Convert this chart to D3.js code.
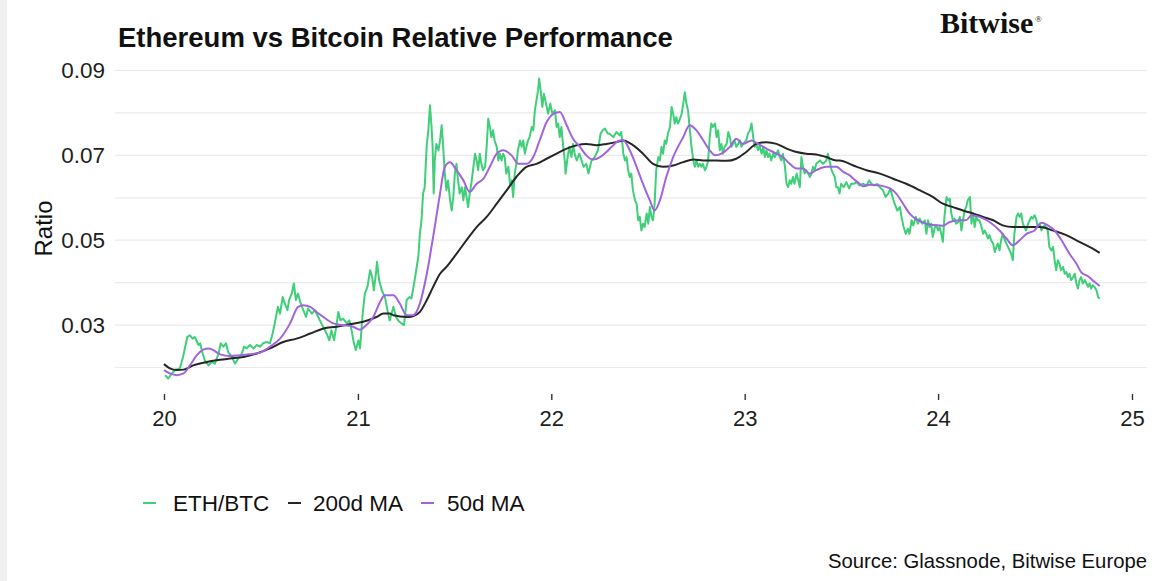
<!DOCTYPE html>
<html>
<head>
<meta charset="utf-8">
<script src="https://cdn.jsdelivr.net/npm/d3@7"></script>
<style>
  body { margin: 0; background: #fff; }
  svg text { font-family: "Liberation Sans", Arial, sans-serif; }
</style>
</head>
<body>
<div id="chart"></div>
<script>
// ETH/BTC daily ratio, [days since 2020-01-01, ratio]
const ethBtc = [
  [2,.0182],[8,.0174],[15,.0186],[21,.0194],[30,.0198],[36,.0225],[40,.0249],[44,.0272],[49,.0276],[54,.0268],
  [58,.0272],[65,.0253],[68,.0257],[73,.0233],[77,.0217],[84,.0205],[90,.0213],[96,.0209],[103,.0233],[107,.0257],
  [112,.0249],[117,.0257],[121,.0237],[128,.0225],[134,.0209],[140,.0221],[147,.0233],[151,.0249],[156,.0245],[162,.0253],
  [169,.0245],[175,.0253],[181,.0249],[187,.0257],[194,.0260],[200,.0257],[205,.0280],[209,.0304],[215,.0343],[219,.0327],
  [224,.0366],[228,.0351],[233,.0335],[236,.0359],[241,.0374],[245,.0398],[249,.0359],[253,.0374],[258,.0351],[263,.0335],
  [268,.0319],[272,.0339],[279,.0327],[285,.0335],[291,.0319],[297,.0304],[302,.0292],[307,.0280],[312,.0264],[316,.0288],
  [321,.0264],[326,.0304],[329,.0331],[333,.0311],[338,.0315],[345,.0304],[350,.0311],[354,.0288],[358,.0260],[362,.0241],
  [367,.0264],[370,.0245],[375,.0327],[379,.0374],[384,.0390],[389,.0429],[393,.0413],[396,.0382],[400,.0421],[402,.0449],
  [406,.0406],[411,.0382],[417,.0366],[423,.0327],[426,.0311],[433,.0343],[438,.0319],[442,.0311],[448,.0304],[453,.0300],
  [458,.0359],[463,.0366],[467,.0363],[472,.0398],[475,.0421],[480,.0461],[483,.0516],[486,.0547],[489,.0610],[492,.0625],
  [496,.0727],[499,.0759],[502,.0818],[505,.0767],[507,.0720],[509,.0610],[511,.0688],[514,.0727],[518,.0712],[521,.0735],
  [524,.0771],[527,.0720],[530,.0657],[533,.0618],[536,.0641],[540,.0594],[543,.0570],[546,.0602],[549,.0657],[552,.0680],
  [555,.0641],[558,.0610],[562,.0625],[565,.0594],[568,.0625],[571,.0602],[574,.0578],[577,.0610],[580,.0633],[584,.0673],
  [587,.0704],[590,.0688],[593,.0665],[596,.0704],[599,.0680],[602,.0665],[606,.0673],[609,.0720],[612,.0786],[615,.0767],
  [618,.0743],[621,.0759],[624,.0735],[628,.0720],[631,.0688],[634,.0704],[637,.0688],[640,.0704],[643,.0696],[646,.0657],
  [650,.0673],[653,.0633],[656,.0641],[659,.0602],[662,.0657],[665,.0680],[668,.0712],[672,.0735],[675,.0720],[678,.0735],
  [681,.0704],[684,.0720],[687,.0735],[690,.0743],[694,.0767],[697,.0759],[700,.0806],[703,.0830],[706,.0853],[708,.0881],
  [711,.0853],[714,.0814],[717,.0845],[721,.0822],[725,.0798],[729,.0822],[733,.0798],[738,.0806],[741,.0767],[744,.0775],
  [747,.0743],[750,.0767],[753,.0727],[757,.0680],[758,.0657],[761,.0688],[765,.0720],[769,.0696],[772,.0727],[775,.0704],
  [779,.0688],[784,.0704],[788,.0688],[792,.0673],[797,.0680],[801,.0657],[804,.0673],[807,.0688],[813,.0696],[819,.0712],
  [824,.0751],[828,.0759],[832,.0763],[838,.0751],[841,.0751],[848,.0743],[854,.0755],[860,.0747],[863,.0755],[867,.0704],
  [870,.0688],[873,.0696],[876,.0665],[879,.0649],[882,.0657],[885,.0618],[889,.0594],[892,.0586],[895,.0547],[898,.0555],
  [901,.0523],[904,.0539],[907,.0531],[911,.0563],[914,.0539],[917,.0578],[920,.0555],[923,.0547],[926,.0586],[929,.0665],
  [933,.0696],[936,.0688],[939,.0720],[942,.0704],[945,.0735],[948,.0727],[951,.0751],[955,.0767],[958,.0814],[961,.0798],
  [964,.0775],[967,.0790],[970,.0775],[973,.0783],[977,.0798],[980,.0822],[983,.0849],[986,.0822],[989,.0806],[992,.0767],
  [995,.0727],[999,.0688],[1002,.0673],[1005,.0688],[1008,.0673],[1011,.0680],[1014,.0673],[1017,.0680],[1021,.0665],[1024,.0673],
  [1027,.0688],[1030,.0743],[1033,.0775],[1036,.0767],[1040,.0775],[1043,.0743],[1046,.0759],[1049,.0712],[1052,.0727],[1055,.0704],
  [1058,.0720],[1062,.0727],[1065,.0755],[1068,.0743],[1071,.0720],[1074,.0727],[1077,.0735],[1080,.0720],[1084,.0727],[1087,.0735],
  [1090,.0720],[1093,.0727],[1096,.0731],[1099,.0735],[1102,.0751],[1106,.0759],[1109,.0775],[1112,.0743],[1115,.0720],[1118,.0727],
  [1121,.0712],[1124,.0723],[1128,.0704],[1131,.0720],[1134,.0696],[1137,.0712],[1140,.0696],[1143,.0704],[1146,.0688],[1150,.0704],
  [1153,.0696],[1156,.0704],[1159,.0712],[1162,.0696],[1165,.0688],[1168,.0704],[1172,.0673],[1175,.0633],[1178,.0625],[1181,.0641],
  [1184,.0633],[1187,.0649],[1190,.0633],[1194,.0657],[1197,.0641],[1200,.0625],[1203,.0696],[1206,.0673],[1209,.0657],[1212,.0665],
  [1216,.0657],[1219,.0649],[1222,.0657],[1225,.0673],[1228,.0665],[1231,.0680],[1238,.0688],[1244,.0680],[1250,.0688],[1253,.0704],
  [1256,.0688],[1260,.0665],[1263,.0657],[1266,.0649],[1269,.0625],[1272,.0625],[1275,.0610],[1278,.0633],[1283,.0625],[1288,.0637],
  [1293,.0622],[1297,.0633],[1302,.0633],[1307,.0637],[1313,.0629],[1319,.0633],[1326,.0629],[1331,.0641],[1335,.0633],[1341,.0629],
  [1346,.0633],[1351,.0625],[1357,.0618],[1362,.0602],[1367,.0610],[1371,.0622],[1375,.0602],[1379,.0586],[1384,.0570],[1389,.0578],
  [1392,.0555],[1396,.0531],[1400,.0515],[1404,.0527],[1407,.0515],[1411,.0547],[1414,.0535],[1419,.0555],[1423,.0539],[1426,.0551],
  [1431,.0539],[1436,.0547],[1439,.0515],[1442,.0547],[1445,.0531],[1448,.0539],[1451,.0508],[1455,.0531],[1458,.0535],[1461,.0523],
  [1464,.0531],[1467,.0515],[1470,.0496],[1473,.0555],[1477,.0602],[1480,.0594],[1483,.0598],[1486,.0563],[1489,.0547],[1492,.0551],
  [1495,.0539],[1499,.0543],[1502,.0555],[1505,.0523],[1508,.0547],[1511,.0570],[1514,.0578],[1517,.0594],[1521,.0602],[1524,.0539],
  [1527,.0563],[1530,.0531],[1533,.0555],[1536,.0547],[1539,.0547],[1543,.0531],[1546,.0515],[1549,.0523],[1552,.0515],[1555,.0504],
  [1558,.0512],[1561,.0500],[1565,.0492],[1568,.0472],[1571,.0484],[1574,.0492],[1577,.0476],[1580,.0500],[1583,.0515],[1587,.0500],
  [1590,.0492],[1593,.0484],[1596,.0476],[1599,.0468],[1602,.0453],[1605,.0515],[1609,.0555],[1612,.0563],[1615,.0555],[1618,.0563],
  [1621,.0539],[1624,.0531],[1627,.0523],[1631,.0539],[1634,.0547],[1637,.0555],[1640,.0551],[1643,.0559],[1646,.0551],[1649,.0531],
  [1653,.0539],[1656,.0523],[1659,.0531],[1662,.0535],[1665,.0531],[1668,.0523],[1671,.0484],[1675,.0476],[1678,.0484],[1681,.0453],
  [1684,.0429],[1687,.0453],[1690,.0445],[1693,.0429],[1697,.0437],[1700,.0421],[1703,.0425],[1706,.0413],[1709,.0421],[1712,.0406],
  [1716,.0413],[1719,.0421],[1722,.0398],[1725,.0386],[1728,.0406],[1731,.0413],[1734,.0398],[1738,.0406],[1741,.0398],[1744,.0390],
  [1747,.0398],[1750,.0386],[1753,.0394],[1756,.0390],[1760,.0382],[1763,.0366],[1766,.0362]
];

// 200 day moving average
const ma200 = [
  [0,.0208],[11,.0198],[24,.0194],[37,.0195],[55,.0205],[81,.0213],[99,.0217],[125,.0221],[150,.0225],[175,.0233],
  [200,.0245],[225,.0260],[250,.0268],[276,.0280],[301,.0292],[326,.0296],[351,.0302],[376,.0308],[401,.0319],[414,.0327],
  [426,.0327],[433,.0323],[458,.0319],[470,.0321],[483,.0331],[496,.0359],[508,.0390],[521,.0421],[533,.0437],[552,.0468],
  [571,.0500],[590,.0531],[609,.0555],[628,.0586],[647,.0618],[665,.0649],[684,.0673],[703,.0680],[722,.0692],[741,.0704],
  [760,.0716],[779,.0724],[797,.0727],[816,.0724],[835,.0727],[860,.0733],[867,.0735],[885,.0724],[904,.0704],[923,.0680],
  [942,.0673],[961,.0676],[980,.0684],[999,.0690],[1018,.0688],[1043,.0688],[1062,.0687],[1080,.0692],[1099,.0708],[1118,.0727],
  [1137,.0731],[1156,.0727],[1175,.0716],[1194,.0708],[1212,.0704],[1231,.0702],[1250,.0696],[1269,.0688],[1275,.0688],[1301,.0676],
  [1326,.0665],[1351,.0657],[1376,.0645],[1401,.0633],[1426,.0618],[1451,.0602],[1470,.0586],[1489,.0578],[1508,.0570],[1527,.0563],
  [1546,.0555],[1565,.0547],[1583,.0535],[1602,.0531],[1628,.0531],[1653,.0531],[1678,.0523],[1703,.0512],[1728,.0496],[1753,.0480],
  [1766,.0470]
];

// 50 day moving average
const ma50 = [
  [0,.0194],[11,.0186],[24,.0182],[37,.0186],[49,.0205],[62,.0229],[74,.0242],[84,.0245],[93,.0241],[106,.0231],
  [125,.0227],[143,.0229],[162,.0231],[181,.0235],[200,.0249],[219,.0268],[238,.0304],[253,.0343],[263,.0347],[276,.0343],
  [288,.0331],[301,.0319],[320,.0304],[338,.0300],[357,.0296],[370,.0289],[382,.0300],[395,.0319],[408,.0355],[417,.0370],
  [426,.0370],[433,.0370],[445,.0351],[458,.0323],[470,.0323],[483,.0351],[496,.0421],[508,.0508],[521,.0610],[530,.0673],
  [540,.0684],[552,.0665],[565,.0641],[577,.0614],[590,.0633],[603,.0645],[615,.0673],[628,.0704],[640,.0712],[656,.0700],
  [669,.0680],[684,.0680],[697,.0696],[709,.0735],[722,.0778],[735,.0798],[747,.0802],[760,.0771],[772,.0739],[785,.0720],
  [797,.0700],[810,.0690],[823,.0696],[835,.0708],[848,.0724],[860,.0735],[867,.0735],[879,.0712],[892,.0673],[904,.0633],
  [917,.0594],[926,.0570],[936,.0594],[948,.0649],[961,.0696],[980,.0743],[992,.0771],[1005,.0759],[1018,.0735],[1030,.0712],
  [1040,.0700],[1052,.0704],[1068,.0720],[1080,.0739],[1093,.0727],[1109,.0735],[1121,.0727],[1137,.0716],[1156,.0704],[1168,.0696],
  [1181,.0680],[1194,.0669],[1206,.0669],[1219,.0657],[1231,.0665],[1250,.0673],[1269,.0673],[1282,.0661],[1294,.0653],[1301,.0645],
  [1313,.0633],[1319,.0627],[1332,.0631],[1351,.0629],[1370,.0622],[1382,.0610],[1395,.0586],[1407,.0563],[1420,.0549],[1439,.0539],
  [1458,.0535],[1470,.0534],[1483,.0543],[1502,.0547],[1514,.0547],[1524,.0559],[1539,.0555],[1558,.0543],[1577,.0523],[1590,.0504],
  [1602,.0488],[1615,.0500],[1628,.0515],[1643,.0523],[1656,.0541],[1668,.0535],[1681,.0523],[1694,.0500],[1709,.0468],[1722,.0445],
  [1731,.0425],[1744,.0415],[1756,.0402],[1766,.0392]
];

const yTicks = [0.03, 0.05, 0.07, 0.09];
const yGrid = [0.02, 0.03, 0.04, 0.05, 0.06, 0.07, 0.08, 0.09];
const seriesNames = ['ETH/BTC', '200d MA', '50d MA'];
const colors = { eth: '#3ecf78', ma200: '#262626', ma50: '#a064dc' };

const width = 1172, height = 581;
const start = new Date(2020, 0, 1);
const toDate = d => d3.timeDay.offset(start, d);

const svg = d3.select('#chart').append('svg')
  .attr('width', width)
  .attr('height', height);

svg.append('rect').attr('width', width).attr('height', height).attr('fill', '#fff');
// faint page edge on the left
svg.append('rect').attr('x', 0).attr('width', 7).attr('height', height).attr('fill', '#f0f0f0');

// scales
const x = d3.scaleTime()
  .domain([new Date(2020, 0, 1), new Date(2025, 0, 1)])
  .range([164, 1132]);
const y = d3.scaleLinear()
  .domain([0.02, 0.09])
  .range([367.5, 70.5]);

// grid
svg.append('g').selectAll('line').data(yGrid).enter().append('line')
  .attr('x1', 115).attr('x2', 1147)
  .attr('y1', d => y(d)).attr('y2', d => y(d))
  .attr('stroke', '#ebebeb').attr('stroke-width', 1.2);

// y axis labels
const yAxis = d3.axisLeft(y).tickValues(yTicks).tickSize(0).tickPadding(10).tickFormat(d3.format('.2f'));
const yAxisG = svg.append('g').attr('transform', 'translate(115,0)').call(yAxis);
yAxisG.select('.domain').remove();
yAxisG.selectAll('text').attr('font-size', 22.5).attr('fill', '#1e1e1e')
  .style('font-family', '"Liberation Sans", Arial, sans-serif');

// x axis
const xAxis = d3.axisBottom(x).ticks(d3.timeYear.every(1)).tickFormat(d3.timeFormat('%y'))
  .tickSize(6).tickPadding(10);
const xAxisG = svg.append('g').attr('transform', 'translate(0,394)').call(xAxis);
xAxisG.select('.domain').remove();
xAxisG.selectAll('line').attr('stroke', '#333').attr('stroke-width', 1.4);
xAxisG.selectAll('text').attr('font-size', 22).attr('fill', '#1e1e1e')
  .style('font-family', '"Liberation Sans", Arial, sans-serif');

// lines
const line = d3.line()
  .x(d => x(toDate(d[0])))
  .y(d => y(d[1]));

svg.append('path').datum(ethBtc)
  .attr('d', line).attr('fill', 'none')
  .attr('stroke', colors.eth).attr('stroke-width', 2).attr('stroke-linejoin', 'round');

const smooth = d3.line()
  .x(d => x(toDate(d[0])))
  .y(d => y(d[1]))
  .curve(d3.curveMonotoneX);

svg.append('path').datum(ma200)
  .attr('d', smooth).attr('fill', 'none')
  .attr('stroke', colors.ma200).attr('stroke-width', 2);

svg.append('path').datum(ma50)
  .attr('d', smooth).attr('fill', 'none')
  .attr('stroke', colors.ma50).attr('stroke-width', 2);

// titles
svg.append('text')
  .attr('x', 118).attr('y', 47)
  .attr('font-size', 27.5).attr('font-weight', 'bold').attr('fill', '#111')
  .text('Ethereum vs Bitcoin Relative Performance');

svg.append('text')
  .attr('x', 940).attr('y', 33)
  .style('font-family', '"Liberation Serif", "Times New Roman", serif')
  .attr('font-size', 30).attr('font-weight', 'bold').attr('fill', '#111')
  .text('Bitwise');
svg.append('text')
  .attr('x', 1035).attr('y', 22)
  .style('font-family', '"Liberation Serif", serif')
  .attr('font-size', 9).attr('fill', '#111')
  .text('®');

svg.append('text')
  .attr('transform', 'translate(52,228.5) rotate(-90)')
  .attr('text-anchor', 'middle')
  .attr('font-size', 24).attr('fill', '#111')
  .text('Ratio');

// legend
const legendItems = [
  { name: seriesNames[0], color: colors.eth, x: 143, tx: 173 },
  { name: seriesNames[1], color: colors.ma200, x: 288, tx: 313 },
  { name: seriesNames[2], color: colors.ma50, x: 421, tx: 447 }
];
const lg = svg.append('g').selectAll('g').data(legendItems).enter().append('g');
lg.append('line')
  .attr('x1', d => d.x).attr('x2', d => d.x + 13)
  .attr('y1', 503).attr('y2', 503)
  .attr('stroke', d => d.color).attr('stroke-width', 2);
lg.append('text')
  .attr('x', d => d.tx).attr('y', 511)
  .attr('font-size', 22.5).attr('fill', '#111')
  .text(d => d.name);

svg.append('text')
  .attr('x', 1147).attr('y', 568)
  .attr('text-anchor', 'end')
  .attr('font-size', 20.3).attr('fill', '#111')
  .text('Source: Glassnode, Bitwise Europe');
</script>
</body>
</html>
